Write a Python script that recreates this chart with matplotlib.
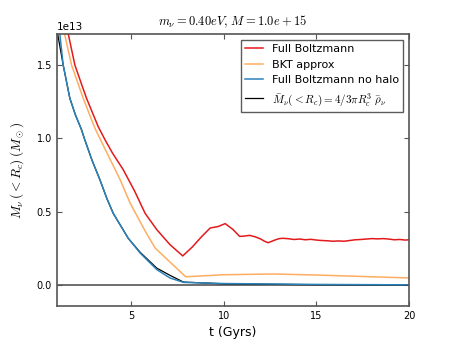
import matplotlib
matplotlib.use('Agg')
import matplotlib.pyplot as plt
import numpy as np

plt.rcParams['mathtext.fontset'] = 'cm'

# values in units of 1e13 Msun
t_full = [1.6, 1.97, 2.3, 2.6, 3.23, 3.6, 4.0, 4.58, 5.2, 5.76, 6.39, 7.1, 7.79,
          8.3, 8.8, 9.27, 9.7, 10.08, 10.5, 10.86, 11.1, 11.4, 11.7, 12.0, 12.2, 12.4,
          12.6, 12.8, 13.0, 13.2, 13.5, 13.8, 14.1, 14.4, 14.7, 15.0, 15.3, 15.6,
          15.9, 16.2, 16.5, 16.8, 17.1, 17.4, 17.7, 18.0, 18.3, 18.6, 18.9, 19.2,
          19.5, 19.8, 20.0]
M_full = [1.72, 1.50, 1.38, 1.273, 1.08, 0.99, 0.90, 0.787, 0.64, 0.49, 0.379, 0.277, 0.20,
          0.26, 0.33, 0.39, 0.40, 0.42, 0.38, 0.333, 0.335, 0.34, 0.33, 0.315, 0.30, 0.29,
          0.30, 0.31, 0.318, 0.32, 0.317, 0.312, 0.315, 0.31, 0.313, 0.308, 0.305, 0.303,
          0.30, 0.302, 0.30, 0.305, 0.31, 0.312, 0.315, 0.318, 0.316, 0.318, 0.315, 0.31,
          0.312, 0.308, 0.31]

t_bkt = [1.4, 1.79, 2.42, 3.05, 3.32, 3.9, 4.41, 4.95, 5.76, 6.3, 7.95, 10.0, 12.7, 15.0, 20.0]
M_bkt = [1.72, 1.50, 1.273, 1.07, 1.00, 0.85, 0.72, 0.56, 0.37, 0.254, 0.058, 0.072, 0.077,
         0.070, 0.05]

t_nohalo = [1.15, 1.34, 1.70, 2.0, 2.33, 2.48, 2.9, 3.32, 3.7, 4.04, 4.85, 5.49, 6.39, 7.1,
            7.83, 10.0, 15.0, 20.0]
M_nohalo = [1.72, 1.50, 1.273, 1.16, 1.059, 1.00, 0.85, 0.719, 0.59, 0.49, 0.32, 0.22,
            0.107, 0.05, 0.02, 0.012, 0.006, 0.003]

t_bar = [1.03, 1.34, 1.70, 2.0, 2.33, 2.48, 2.9, 3.32, 3.7, 4.04, 4.85, 5.49, 6.39, 7.1,
         7.83, 10.0, 15.0, 20.0]
M_bar = [1.72, 1.50, 1.273, 1.16, 1.059, 1.00, 0.85, 0.719, 0.59, 0.49, 0.32, 0.225,
         0.117, 0.068, 0.022, 0.01, 0.004, 0.002]

scale = 1e13

fig = plt.figure(figsize=(4.55, 3.41), dpi=100)
ax = fig.add_axes([0.125, 0.103, 0.774, 0.797])

ax.axhline(0, color='#555555', lw=1.2)
ax.plot(t_full, np.array(M_full) * scale, color='#e31a1c', lw=1.1, label='Full Boltzmann')
ax.plot(t_bkt, np.array(M_bkt) * scale, color='#fdae61', lw=1.1, label='BKT approx')
ax.plot(t_bar, np.array(M_bar) * scale, color='k', lw=0.9,
        label=r'$\bar{M}_\nu(<R_c) = 4/3\pi R_c^3\;\bar{\rho}_\nu$')
ax.plot(t_nohalo, np.array(M_nohalo) * scale, color='#2b83ba', lw=1.1,
        label='Full Boltzmann no halo')

ax.set_xlim(1.0, 20)
ax.set_ylim(-0.14e13, 1.71e13)
ax.set_xticks([5, 10, 15, 20])
ax.set_yticks(np.array([0.0, 0.5, 1.0, 1.5]) * scale)
ax.tick_params(direction='in', labelsize=7, top=True, right=True, color='#555555')
ax.yaxis.get_offset_text().set_fontsize(7.5)
for s in ax.spines.values():
    s.set_color('#555555')
    s.set_linewidth(1.2)

ax.set_xlabel('t (Gyrs)', fontsize=9)
ax.set_ylabel(r'$M_\nu\,(<R_c)\,(M_\odot)$', fontsize=9.5, labelpad=8)
ax.set_title(r'$m_\nu=0.40eV,\,M=1.0e+15$', fontsize=9)

h, l = ax.get_legend_handles_labels()
order = [0, 1, 3, 2]
leg = ax.legend([h[i] for i in order], [l[i] for i in order], loc='upper right',
                fontsize=8, fancybox=False, borderaxespad=0.5, handlelength=1.6)
leg.get_frame().set_edgecolor('#333333')

fig.savefig('out.png', dpi=100)
